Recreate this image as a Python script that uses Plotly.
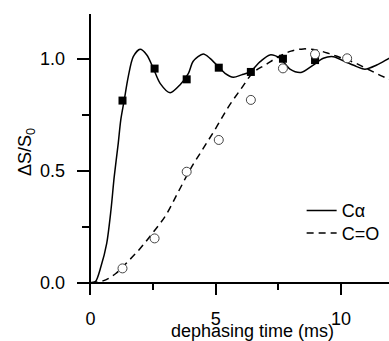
import plotly.graph_objects as go

# --- data ---
t_points = [1.28, 2.56, 3.84, 5.12, 6.40, 7.68, 8.96]
ca_points = [0.814, 0.957, 0.909, 0.961, 0.942, 1.001, 0.995]

t_co_points = [1.28, 2.56, 3.84, 5.12, 6.40, 7.68, 8.96, 10.24]
co_points = [0.064, 0.198, 0.496, 0.638, 0.817, 0.958, 1.021, 1.003]

t_ca_curve = [0.0, 0.2, 0.42, 0.65, 0.82, 0.95, 1.11, 1.21, 1.35, 1.51, 1.71, 1.98,
              2.25, 2.51, 2.78, 3.18, 3.57, 3.91, 4.1, 4.5, 4.77, 5.1, 5.37, 5.7,
              6.03, 6.36, 6.77, 7.16, 7.56, 7.96, 8.4, 8.89, 9.29, 9.69, 10.16,
              10.62, 10.95, 11.42, 11.91, 12.2]
ca_curve = [0.0, 0.005, 0.072, 0.176, 0.325, 0.474, 0.623, 0.727, 0.817, 0.921, 1.010, 1.043,
            1.018, 0.958, 0.891, 0.849, 0.884, 0.936, 0.990, 1.022, 1.003, 0.966, 0.936, 0.918,
            0.929, 0.942, 0.988, 1.018, 1.003, 0.955, 0.940, 0.973, 1.003, 1.010, 0.988,
            0.966, 0.954, 0.973, 1.003, 1.02]

t_co_curve = [0.0, 0.5, 1.0, 1.5, 2.0, 2.5, 3.0, 3.5, 4.0, 4.5, 5.0, 5.5, 6.0, 6.5,
              7.0, 7.5, 8.0, 8.5, 9.0, 9.5, 10.0, 10.5, 11.0, 11.5, 12.0]
co_curve = [0.0, 0.008, 0.04, 0.095, 0.155, 0.225, 0.30, 0.405, 0.51, 0.60, 0.69, 0.785,
            0.865, 0.94, 0.975, 1.01, 1.035, 1.045, 1.04, 1.025, 1.005, 0.985, 0.958, 0.93, 0.905]

x_ticks = [0, 5, 10]
y_ticks = [0.0, 0.5, 1.0]

FONT = "Liberation Sans, Arial, sans-serif"

fig = go.Figure()
fig.add_trace(go.Scatter(x=t_ca_curve, y=ca_curve, mode="lines", name="Cα", legend="legend",
                         line=dict(color="black", width=1.5, shape="spline", smoothing=0.8)))
fig.add_trace(go.Scatter(x=t_co_curve, y=co_curve, mode="lines", name="C=O", legend="legend2",
                         line=dict(color="black", width=1.5, dash="7px,5px", shape="spline")))
fig.add_trace(go.Scatter(x=t_points, y=ca_points, mode="markers", showlegend=False,
                         marker=dict(symbol="square", size=8, color="black")))
fig.add_trace(go.Scatter(x=t_co_points, y=co_points, mode="markers", showlegend=False,
                         marker=dict(symbol="circle", size=9, color="white",
                                     line=dict(color="#444444", width=1))))

xr = [-0.535, 11.91]
yr = [-0.055, 1.201]

leg_common = dict(xanchor="left", yanchor="middle", bgcolor="rgba(0,0,0,0)",
                  font=dict(size=18), tracegroupgap=0)

fig.update_layout(
    width=389, height=341,
    margin=dict(l=77, r=0, t=14, b=46, autoexpand=False),
    paper_bgcolor="white", plot_bgcolor="white",
    font=dict(family=FONT, size=18, color="black"),
    showlegend=True,
    legend=dict(x=0.72, y=0.300, **leg_common),
    legend2=dict(x=0.72, y=0.2196, **leg_common),
    xaxis=dict(range=xr, anchor="free", position=(0 - yr[0]) / (yr[1] - yr[0]),
               automargin=False,
               showline=True, linecolor="black", linewidth=1.5,
               showgrid=False, zeroline=False,
               tickvals=x_ticks, ticks="outside", ticklen=12, tickwidth=1.5, tickcolor="black",
               minor=dict(dtick=2.5, tick0=0, ticks="outside", ticklen=7, tickwidth=1.5,
                          tickcolor="black", showgrid=False),
               ticklabelstandoff=8, tickfont=dict(size=18)),
    yaxis=dict(range=yr, anchor="free", position=(0 - xr[0]) / (xr[1] - xr[0]),
               automargin=False,
               showline=True, linecolor="black", linewidth=1.5,
               showgrid=False, zeroline=False,
               tickvals=y_ticks, tickformat=".1f",
               ticks="outside", ticklen=13, tickwidth=1.5, tickcolor="black",
               minor=dict(dtick=0.25, tick0=0, ticks="outside", ticklen=8, tickwidth=1.5,
                          tickcolor="black", showgrid=False),
               ticklabelstandoff=8, tickfont=dict(size=18)),
    annotations=[
        dict(text="dephasing time (ms)", xref="paper", yref="paper",
             x=0.561, y=-0.128, xanchor="center", yanchor="middle",
             showarrow=False, font=dict(size=18)),
        dict(text="ΔS/S<sub>0</sub>", xref="paper", yref="paper",
             x=-0.160, y=0.509, xanchor="center", yanchor="middle", textangle=-90,
             showarrow=False, font=dict(size=18)),
    ],
)

fig.write_html("out.html", config={"displayModeBar": False},
               post_script="document.body.style.margin='0px';document.body.style.overflow='hidden';")
